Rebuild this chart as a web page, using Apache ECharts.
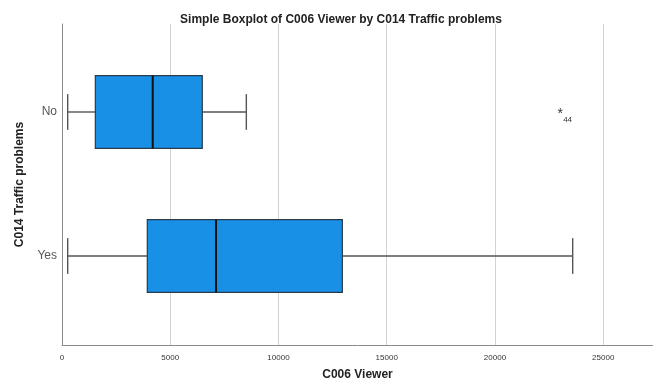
<!DOCTYPE html>
<html>
<head>
<meta charset="utf-8">
<script src="https://cdn.jsdelivr.net/npm/echarts@6/dist/echarts.min.js"></script>
<style>
  html, body { margin: 0; padding: 0; background: #fff; }
  #chart { width: 653px; height: 389px; }
</style>
</head>
<body>
<div id="chart"></div>
<script>
// Groups of C014 Traffic problems
const categories = ['No', 'Yes'];
// Five-number summaries of C006 Viewer per group
const whiskerLow  = [263, 263];
const quartile1   = [1540, 3940];
const medians     = [4190, 7115];
const quartile3   = [6480, 12950];
const whiskerHigh = [8515, 23590];
// Extreme outliers (case number, group index, value)
const outlierCases  = ['44'];
const outlierGroups = [0];
const outlierValues = [23010];
// X axis ticks
const xTickStep = 5000;
const xMax = 27300;

const boxData = categories.map((c, i) => [i, whiskerLow[i], quartile1[i], medians[i], quartile3[i], whiskerHigh[i]]);
const outlierData = outlierValues.map((v, i) => [outlierGroups[i], v, outlierCases[i]]);

const chart = echarts.init(document.getElementById('chart'));

function renderBox(params, api) {
  const cat = api.value(0);
  const lo = api.coord([api.value(1), cat]);
  const q1 = api.coord([api.value(2), cat]);
  const md = api.coord([api.value(3), cat]);
  const q3 = api.coord([api.value(4), cat]);
  const hi = api.coord([api.value(5), cat]);
  const halfBox = api.size([0, 0.252])[1];
  const halfCap = api.size([0, 0.124])[1];
  const y = lo[1];
  const whiskerStyle = { stroke: '#555555', lineWidth: 1.4 };
  return {
    type: 'group',
    children: [
      { type: 'line', shape: { x1: lo[0], y1: y, x2: q1[0], y2: y }, style: whiskerStyle },
      { type: 'line', shape: { x1: q3[0], y1: y, x2: hi[0], y2: y }, style: whiskerStyle },
      { type: 'line', shape: { x1: lo[0], y1: y - halfCap, x2: lo[0], y2: y + halfCap }, style: whiskerStyle },
      { type: 'line', shape: { x1: hi[0], y1: y - halfCap, x2: hi[0], y2: y + halfCap }, style: whiskerStyle },
      { type: 'rect', shape: { x: q1[0], y: y - halfBox, width: q3[0] - q1[0], height: 2 * halfBox },
        style: { fill: '#1890e6', stroke: '#2a3a48', lineWidth: 1.2 } },
      { type: 'line', shape: { x1: md[0], y1: y - halfBox, x2: md[0], y2: y + halfBox },
        style: { stroke: '#111111', lineWidth: 2 } }
    ]
  };
}

function renderOutlier(params, api) {
  const p = api.coord([api.value(1), api.value(0)]);
  return {
    type: 'group',
    children: [
      { type: 'text', x: p[0], y: p[1] + 2,
        style: { text: '*', fill: '#333333', font: '14px "Liberation Sans", Arial', align: 'center', verticalAlign: 'middle' } },
      { type: 'text', x: p[0] + 3, y: p[1] + 8,
        style: { text: api.value(2), fill: '#333333', font: '8px "Liberation Sans", Arial', align: 'left', verticalAlign: 'middle' } }
    ]
  };
}

chart.setOption({
  animation: false,
  backgroundColor: '#ffffff',
  title: {
    text: 'Simple Boxplot of C006 Viewer by C014 Traffic problems',
    left: 336, top: 9, textAlign: 'center',
    textStyle: { fontFamily: '"Liberation Sans", Arial', fontSize: 12, fontWeight: 'bold', color: '#222222' }
  },
  grid: { left: 62, right: 0, top: 24, bottom: 44, containLabel: false },
  xAxis: {
    type: 'value', min: 0, max: xMax, interval: xTickStep,
    name: 'C006 Viewer', nameLocation: 'middle', nameGap: 24,
    nameTextStyle: { fontFamily: '"Liberation Sans", Arial', fontSize: 12, fontWeight: 'bold', color: '#222222' },
    axisLine: { show: true, onZero: false, lineStyle: { color: '#8a8a8a', width: 1 } },
    axisTick: { show: false },
    axisLabel: { fontFamily: '"Liberation Sans", Arial', fontSize: 8, color: '#333333', margin: 9,
      showMaxLabel: false, formatter: v => String(v) },
    splitLine: { show: true, lineStyle: { color: '#d2d2d2', width: 1 } }
  },
  yAxis: {
    type: 'value', inverse: true, min: -0.611, max: 1.618,
    name: 'C014 Traffic problems', nameLocation: 'middle', nameRotate: 90, nameGap: 36,
    nameTextStyle: { fontFamily: '"Liberation Sans", Arial', fontSize: 12, fontWeight: 'bold', color: '#222222' },
    axisLine: { show: true, onZero: false, lineStyle: { color: '#8a8a8a', width: 1 } },
    axisTick: { show: false },
    splitLine: { show: false },
    axisLabel: {
      customValues: categories.map((c, i) => i),
      formatter: v => categories[Math.round(v)] || '',
      fontFamily: '"Liberation Sans", Arial', fontSize: 12, color: '#555555', margin: 5
    }
  },
  series: [
    { type: 'custom', renderItem: renderBox, data: boxData, encode: { x: [1, 2, 3, 4, 5], y: 0 } },
    { type: 'custom', renderItem: renderOutlier, data: outlierData, encode: { x: 1, y: 0 } }
  ]
});
</script>
</body>
</html>
